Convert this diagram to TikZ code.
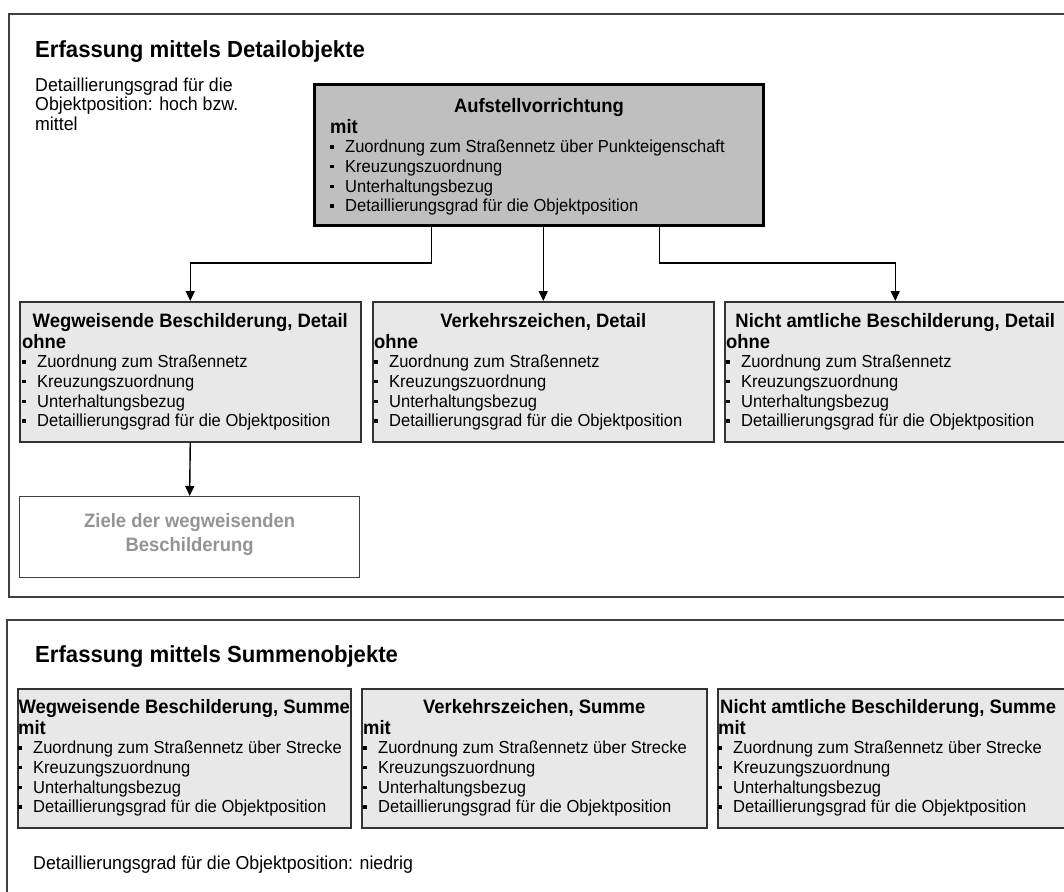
\documentclass[tikz,border=0pt]{standalone}
\usepackage{fontspec}
\setmainfont{Liberation Sans}[FakeStretch=0.95]
\usetikzlibrary{arrows.meta,positioning}

\newcommand{\itm}{\makebox[15pt][l]{\rule[4pt]{3.5pt}{3.5pt}}}
\newcommand{\kopf}[1]{{\fontsize{19.4}{19.6}\selectfont\bfseries #1}}

\tikzset{
  frame/.style={draw=black!75, line width=1.5pt},
  mainbox/.style={draw=black, line width=3pt, fill=black!25, anchor=north west, inner sep=0pt},
  detailbox/.style={draw=black!80, line width=1.5pt, fill=black!9, anchor=north west, inner sep=0pt,
    minimum width=341pt, minimum height=140pt},
  zielbox/.style={draw=black!75, line width=1.3pt, fill=white, anchor=north west, inner sep=0pt},
  headtext/.style={font=\fontsize{19.4}{24}\selectfont\bfseries, inner sep=0pt, anchor=base},
  listtext/.style={font=\fontsize{17.4}{19.6}\selectfont, align=left, inner sep=0pt, anchor=north west},
  titletext/.style={font=\fontsize{23.3}{26}\selectfont\bfseries, inner sep=0pt, anchor=base west},
  note/.style={font=\fontsize{18.7}{19.2}\selectfont, align=left, inner sep=0pt, anchor=north west},
  link/.style={line width=1.4pt, -{Triangle[length=10pt,width=9pt]}},
}

\begin{document}
\begin{tikzpicture}[x=1pt,y=-1pt]
  \useasboundingbox (0,0) rectangle (1064,891);
  \fill[white] (0,0) rectangle (1064,891);
  % outer frames (run off the right and bottom edge)
  \draw[frame] (9,14) rectangle (1090,597);
  \draw[frame] (7,620) rectangle (1090,910);

  % --- Erfassung mittels Detailobjekte ---
  \node[titletext] (titelD) at (35,57) {Erfassung mittels Detailobjekte};
  \node[note] (notizD) at (35,78) {Detaillierungsgrad für die\\Objektposition: hoch bzw.\\mittel};

  % Aufstellvorrichtung
  \node[mainbox, minimum width=449pt, minimum height=141pt] (aufst) at (313,83) {};
  \node[headtext] (aufstH) at ([yshift=-29pt]aufst.north) {Aufstellvorrichtung};
  \node[listtext] (aufstL) at ([xshift=17pt,yshift=-36pt]aufst.north west)
    {\kopf{mit}\\
     \itm Zuordnung zum Straßennetz über Punkteigenschaft\\
     \itm Kreuzungszuordnung\\
     \itm Unterhaltungsbezug\\
     \itm Detaillierungsgrad für die Objektposition};

  % Detailobjekte
  \node[detailbox] (wegD) at (19,301) {};
  \node[headtext] (wegDH) at ([yshift=-26pt]wegD.north) {Wegweisende Beschilderung, Detail};
  \node[listtext] (wegDL) at ([xshift=3pt,yshift=-33pt]wegD.north west)
    {\kopf{ohne}\\
     \itm Zuordnung zum Straßennetz\\
     \itm Kreuzungszuordnung\\
     \itm Unterhaltungsbezug\\
     \itm Detaillierungsgrad für die Objektposition};

  \node[detailbox] (verkD) at (372,301) {};
  \node[headtext] (verkDH) at ([yshift=-26pt]verkD.north) {Verkehrszeichen, Detail};
  \node[listtext] (verkDL) at ([xshift=2pt,yshift=-33pt]verkD.north west)
    {\kopf{ohne}\\
     \itm Zuordnung zum Straßennetz\\
     \itm Kreuzungszuordnung\\
     \itm Unterhaltungsbezug\\
     \itm Detaillierungsgrad für die Objektposition};

  \node[detailbox] (nichtD) at (724,301) {};
  \node[headtext] (nichtDH) at ([yshift=-26pt]nichtD.north) {Nicht amtliche Beschilderung, Detail};
  \node[listtext] (nichtDL) at ([xshift=2pt,yshift=-33pt]nichtD.north west)
    {\kopf{ohne}\\
     \itm Zuordnung zum Straßennetz\\
     \itm Kreuzungszuordnung\\
     \itm Unterhaltungsbezug\\
     \itm Detaillierungsgrad für die Objektposition};

  % Ziele
  \node[zielbox, minimum width=340pt, minimum height=81pt] (ziel) at (19,496) {};
  \node[headtext, text=black!42, align=center, anchor=north] (zielH) at ([yshift=-17pt]ziel.north)
    {Ziele der wegweisenden\\Beschilderung};

  % connectors
  \draw[link] ([xshift=-107.5pt]aufst.south) |- ([yshift=38pt]wegD.north) -- (wegD.north);
  \draw[link] (aufst.south -| verkD.north) -- (verkD.north);
  \draw[link] ([xshift=120.5pt]aufst.south) |- ([yshift=38pt]nichtD.north) -- (nichtD.north);
  \draw[link] (wegD.south) -- (ziel.north);

  % --- Erfassung mittels Summenobjekte ---
  \node[titletext] (titelS) at (35,662) {Erfassung mittels Summenobjekte};

  \node[detailbox, minimum width=333pt, minimum height=139pt] (wegS) at (17,688) {};
  \node[headtext] (wegSH) at ([yshift=-25pt]wegS.north) {Wegweisende Beschilderung, Summe};
  \node[listtext] (wegSL) at ([xshift=1pt,yshift=-32pt]wegS.north west)
    {\kopf{mit}\\
     \itm Zuordnung zum Straßennetz über Strecke\\
     \itm Kreuzungszuordnung\\
     \itm Unterhaltungsbezug\\
     \itm Detaillierungsgrad für die Objektposition};

  \node[detailbox, minimum width=345pt, minimum height=139pt] (verkS) at (361,688) {};
  \node[headtext] (verkSH) at ([yshift=-25pt]verkS.north) {Verkehrszeichen, Summe};
  \node[listtext] (verkSL) at ([xshift=2pt,yshift=-32pt]verkS.north west)
    {\kopf{mit}\\
     \itm Zuordnung zum Straßennetz über Strecke\\
     \itm Kreuzungszuordnung\\
     \itm Unterhaltungsbezug\\
     \itm Detaillierungsgrad für die Objektposition};

  \node[detailbox, minimum width=360pt, minimum height=139pt] (nichtS) at (717,688) {};
  \node[headtext, anchor=base west] (nichtSH) at ([xshift=3pt,yshift=-25pt]nichtS.north west) {Nicht amtliche Beschilderung, Summe};
  \node[listtext] (nichtSL) at ([xshift=1pt,yshift=-32pt]nichtS.north west)
    {\kopf{mit}\\
     \itm Zuordnung zum Straßennetz über Strecke\\
     \itm Kreuzungszuordnung\\
     \itm Unterhaltungsbezug\\
     \itm Detaillierungsgrad für die Objektposition};

  \node[note, anchor=base west] (notizS) at (33,869) {Detaillierungsgrad für die Objektposition: niedrig};
\end{tikzpicture}
\end{document}
